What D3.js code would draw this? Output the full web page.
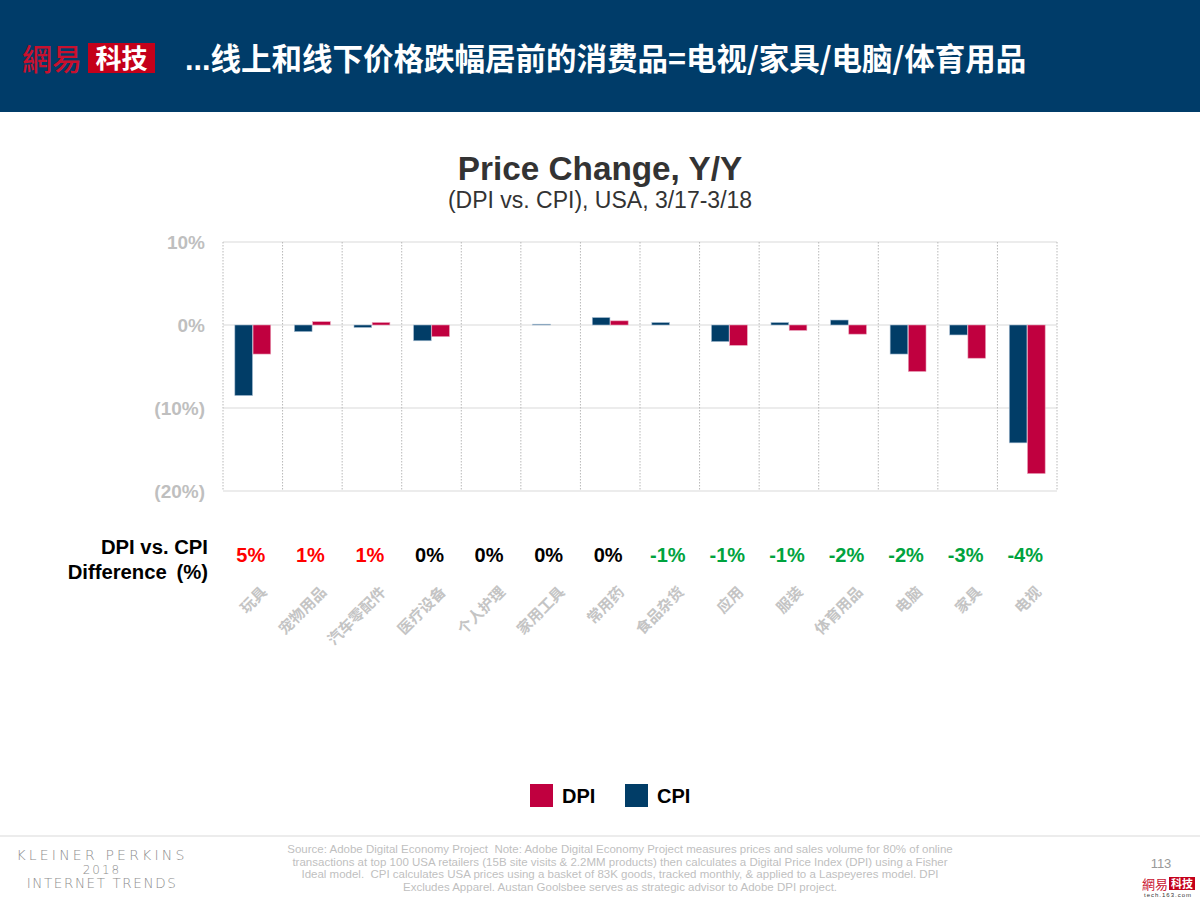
<!DOCTYPE html>
<html><head><meta charset="utf-8">
<script src="https://cdn.jsdelivr.net/npm/d3@7"></script>
<style>
html,body{margin:0;padding:0;background:#fff;}
svg{display:block;font-family:Arial,"Liberation Sans","Noto Sans CJK SC",sans-serif;}
</style></head>
<body>
<svg id="c" width="1200" height="900"></svg>
<script>
const categories = ["玩具","宠物用品","汽车零配件","医疗设备","个人护理","家用工具","常用药","食品杂货","应用","服装","体育用品","电脑","家具","电视"];
const cpiValues = [-8.5,-0.8,-0.3,-1.9,0,0.1,0.9,0.3,-2.0,0.3,0.6,-3.5,-1.2,-14.2];
const dpiValues = [-3.5,0.4,0.3,-1.4,0,0,0.5,0,-2.45,-0.65,-1.1,-5.6,-4.0,-17.9];
const diffLabels = ["5%","1%","1%","0%","0%","0%","0%","-1%","-1%","-1%","-2%","-2%","-3%","-4%"];
const yTicks = [10,0,-10,-20];
const yTickLabels = ["10%","0%","(10%)","(20%)"];
const seriesNames = ["DPI","CPI"];

const BLUE = "#013d67", RED = "#c0003f", GRAY = "#bfbfbf";
const svg = d3.select("#c");

// header band
svg.append("rect").attr("x",0).attr("y",0).attr("width",1200).attr("height",112).attr("fill","#003c69");
svg.append("text").attr("x",22).attr("y",70).attr("fill","#c8102e")
  .attr("font-family","'Noto Sans CJK SC',sans-serif").attr("font-size",30).attr("font-weight",500).text("網易");
svg.append("rect").attr("x",88).attr("y",43).attr("width",67).attr("height",30).attr("fill","#c4001a");
svg.append("text").attr("x",121.5).attr("y",68).attr("text-anchor","middle").attr("fill","#fff")
  .attr("font-family","'Noto Sans CJK SC',serif").attr("font-size",26).attr("font-weight",700).text("科技");
const ht = svg.append("text").attr("x",185).attr("y",70).attr("fill","#fff")
  .attr("font-family","'Noto Sans CJK SC',sans-serif").attr("font-size",30.5).attr("font-weight",700);
ht.append("tspan").attr("font-family","Arial,'Liberation Sans',sans-serif").text("...");
ht.append("tspan").text("线上和线下价格跌幅居前的消费品=电视/家具/电脑/体育用品");

// titles
svg.append("text").attr("x",600).attr("y",180).attr("text-anchor","middle").attr("fill","#333")
  .attr("font-size",33.3).attr("font-weight",700).text("Price Change, Y/Y");
svg.append("text").attr("x",600).attr("y",208).attr("text-anchor","middle").attr("fill","#333")
  .attr("font-size",23).text("(DPI vs. CPI), USA, 3/17-3/18");

// scales
const x = d3.scaleBand().domain(categories).range([223,1057]).paddingInner(0).paddingOuter(0);
const y = d3.scaleLinear().domain([-20,10]).range([491,242]);
const xs = d3.scaleBand().domain(["CPI","DPI"]).range([0,x.bandwidth()]).paddingInner(0.03).paddingOuter(0.65);

// horizontal grid
svg.append("g").selectAll("line").data(yTicks).join("line")
  .attr("x1",223).attr("x2",1057).attr("y1",d=>y(d)).attr("y2",d=>y(d))
  .attr("stroke","#d9d9d9").attr("stroke-width",1.2);
// vertical dotted grid
const bounds = categories.map(c=>x(c)).concat([x.range()[1]]);
svg.append("g").selectAll("line").data(bounds).join("line")
  .attr("x1",d=>d).attr("x2",d=>d).attr("y1",242).attr("y2",491)
  .attr("stroke","#b8b8b8").attr("stroke-width",1).attr("stroke-dasharray","1.5,1.5");

// y axis labels
const yAxis = d3.axisLeft(y).tickValues(yTicks).tickSize(0).tickPadding(0)
  .tickFormat((d,i)=>yTickLabels[i]);
const ya = svg.append("g").attr("transform","translate(205,0)").call(yAxis);
ya.select(".domain").remove();
ya.selectAll("text").attr("fill",GRAY).attr("font-size",19).attr("font-weight",700)
  .attr("font-family","Arial,'Liberation Sans',sans-serif").attr("dy","0.35em");

// bars
const groups = svg.append("g").selectAll("g").data(categories).join("g")
  .attr("transform",d=>`translate(${x(d)},0)`);
groups.append("rect")
  .attr("x",xs("CPI")).attr("width",xs.bandwidth())
  .attr("y",(d,i)=>y(Math.max(0,cpiValues[i])))
  .attr("height",(d,i)=>Math.abs(y(cpiValues[i])-y(0)))
  .attr("fill",BLUE).attr("stroke","#a9bfd3").attr("stroke-width",0.6);
groups.append("rect")
  .attr("x",xs("DPI")).attr("width",xs.bandwidth())
  .attr("y",(d,i)=>y(Math.max(0,dpiValues[i])))
  .attr("height",(d,i)=>Math.abs(y(dpiValues[i])-y(0)))
  .attr("fill",RED).attr("stroke","#e8a0b8").attr("stroke-width",0.6);

// difference row
svg.append("text").attr("x",208).attr("y",554).attr("text-anchor","end").attr("fill","#000")
  .attr("font-size",20.3).attr("font-weight",700).text("DPI vs. CPI");
svg.append("text").attr("x",208).attr("y",579).attr("text-anchor","end").attr("fill","#000")
  .attr("font-size",20.3).attr("font-weight",700).attr("word-spacing","4px").text("Difference (%)");
svg.append("g").selectAll("text").data(diffLabels).join("text")
  .attr("x",(d,i)=>x(categories[i])+x.bandwidth()/2 - 2).attr("y",562)
  .attr("text-anchor","middle").attr("font-size",20).attr("font-weight",700)
  .attr("fill",d=>d.startsWith("-")?"#00a33e":(d==="0%"?"#000":"#ff0000"))
  .text(d=>d);

// x labels rotated
const xAxis = d3.axisBottom(x).tickSize(0).tickPadding(0);
const xa = svg.append("g").attr("transform","translate(0,593)").call(xAxis);
xa.select(".domain").remove();
xa.selectAll("text").attr("fill","#c4c4c4").attr("font-size",15).attr("font-weight",700)
  .attr("font-family","'Noto Sans CJK SC',sans-serif")
  .attr("text-anchor","end").attr("dy",0).attr("y",0)
  .attr("transform","translate(15,0) rotate(-45)");

// legend
const legend = svg.append("g");
const legItems = [{n:"DPI",c:RED,x:530},{n:"CPI",c:BLUE,x:625}];
legItems.forEach(l=>{
  legend.append("rect").attr("x",l.x).attr("y",784).attr("width",23).attr("height",23).attr("fill",l.c);
  legend.append("text").attr("x",l.x+32).attr("y",803).attr("font-size",20).attr("font-weight",700).attr("fill","#000").text(l.n);
});

// footer
svg.append("line").attr("x1",0).attr("x2",1200).attr("y1",836).attr("y2",836).attr("stroke","#e6e6e6").attr("stroke-width",1.5);
const kp = svg.append("g").attr("fill","#8c8c8c").attr("text-anchor","middle")
  .attr("font-family","'DejaVu Sans',sans-serif").attr("font-weight",300);
kp.append("text").attr("x",102).attr("y",860).attr("font-size",14).attr("letter-spacing","3.2px").text("KLEINER PERKINS");
kp.append("text").attr("x",102).attr("y",874).attr("font-size",12).attr("letter-spacing","2px").text("2018");
kp.append("text").attr("x",102).attr("y",888).attr("font-size",13.5).attr("letter-spacing","1.6px").text("INTERNET TRENDS");

const src = ["Source: Adobe Digital Economy Project  Note: Adobe Digital Economy Project measures prices and sales volume for 80% of online",
"transactions at top 100 USA retailers (15B site visits & 2.2MM products) then calculates a Digital Price Index (DPI) using a Fisher",
"Ideal model.  CPI calculates USA prices using a basket of 83K goods, tracked monthly, & applied to a Laspeyeres model. DPI",
"Excludes Apparel. Austan Goolsbee serves as strategic advisor to Adobe DPI project."];
svg.append("g").selectAll("text").data(src).join("text")
  .attr("x",620).attr("y",(d,i)=>853+i*12.6).attr("text-anchor","middle")
  .attr("font-size",11.5).attr("fill",GRAY).attr("xml:space","preserve").style("white-space","pre").text(d=>d);

svg.append("text").attr("x",1161).attr("y",868).attr("text-anchor","middle").attr("font-size",13).attr("fill","#999").text("113");
svg.append("text").attr("x",1142).attr("y",889).attr("fill","#c8102e").attr("font-size",13)
  .attr("font-family","'Noto Sans CJK SC',sans-serif").text("網易");
svg.append("rect").attr("x",1169).attr("y",877).attr("width",26).attr("height",13).attr("fill","#c4001a");
svg.append("text").attr("x",1182).attr("y",888).attr("text-anchor","middle").attr("fill","#fff").attr("font-size",11).attr("font-weight",700)
  .attr("font-family","'Noto Sans CJK SC',sans-serif").text("科技");
svg.append("text").attr("x",1168).attr("y",897).attr("text-anchor","middle").attr("fill","#333").attr("font-size",6)
  .attr("letter-spacing","1px").text("tech.163.com");
</script>
</body></html>
